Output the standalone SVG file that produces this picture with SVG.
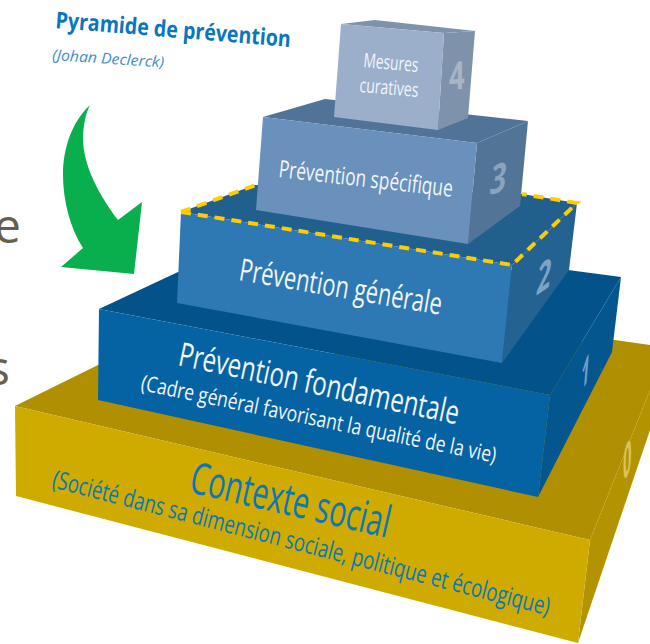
<svg xmlns="http://www.w3.org/2000/svg" width="650" height="644" viewBox="0 0 650 644">
<style>
text{font-family:"Open Sans","Noto Sans","Liberation Sans",sans-serif}
.w{fill:#f2f6fa}
.b{fill:#0a76bd}
.n{font-weight:700;font-style:italic}
.dash{fill:none;stroke:#ffcc00;stroke-width:4;stroke-dasharray:10 7}
</style>
<rect width="650" height="644" fill="#fff"/>
<g id="cropped-letters" fill="#665f4d" font-size="48">
<text x="-6" y="243">e</text>
<text x="-13" y="385">s</text>
</g>
<g id="title">
<text x="55" y="28" transform="rotate(4.6 55 28)" font-size="23" font-weight="700" fill="#0a76bd" textLength="236" lengthAdjust="spacingAndGlyphs">Pyramide de prévention</text>
<text x="52" y="60" transform="rotate(3.8 52 60)" font-size="15" font-style="italic" fill="#3b8dcc" textLength="112" lengthAdjust="spacingAndGlyphs">(Johan Declerck)</text>
</g>
<path id="arrow" fill="#08af4c" d="M90 105C72 122 63 148 63 175C63 200 70 228 83 248L61 267L134 274L142 202L118 220C100 196 82 165 83 135C84 122 86 113 90 105Z"/>
<g id="level-0">
<polygon fill="#b09000" points="15,406 98,365 615,340 650,345 650,390 590,540"/>
<polygon fill="#b39400" points="590,540 578,643 650,430 650,390"/>
<polygon fill="#cfab00" points="15,406 16,496 578,643 590,540"/>
<text class="b" x="188" y="492" transform="rotate(13 188 492)" font-size="44" textLength="204" lengthAdjust="spacingAndGlyphs">Contexte social</text>
<text class="b" x="51" y="487" transform="rotate(14.5 51 487)" font-size="25" textLength="513" lengthAdjust="spacingAndGlyphs">(Société dans sa dimension sociale, politique et écologique)</text>
<text x="0" y="0" transform="matrix(.5 -1 0 1.5 623 484)" font-size="30" font-weight="700" fill="#d8c25a">0</text>
</g>
<g id="level-1">
<polygon fill="#03538a" points="99,309 178,272 568,270 621,277 550,395"/>
<polygon fill="#04568f" points="550,395 538,497 612,352 621,277"/>
<polygon fill="#0563a3" points="99,309 98,400 538,497 550,395"/>
<text class="w" x="177" y="365" transform="rotate(12 177 365)" font-size="33" textLength="286" lengthAdjust="spacingAndGlyphs">Prévention fondamentale</text>
<text class="w" x="140" y="390" transform="rotate(11.6 140 390)" font-size="22" textLength="362" lengthAdjust="spacingAndGlyphs">(Cadre général favorisant la qualité de la vie)</text>
<text x="0" y="0" class="n" transform="matrix(.5 -.85 0 1.1 581 392)" font-size="32" fill="#6f9fc8">1</text>
</g>
<g id="level-2">
<polygon fill="#21608d" points="181,212 255,185 522,194 577,203 512,265"/>
<polygon fill="#246391" points="512,265 502,363 569,270 577,203"/>
<polygon fill="#2e79b3" points="181,212 177,303 502,363 512,265"/>
<text class="w" x="238" y="280" transform="rotate(9.8 238 280)" font-size="31" textLength="205" lengthAdjust="spacingAndGlyphs">Prévention générale</text>
<text x="0" y="0" class="n" transform="matrix(.72 -.5 0 1.1 537 295)" font-size="36" fill="#7fa3c6">2</text>
</g>
<g id="level-3">
<polygon fill="#517397" points="263,117 325,99 528,121 477,143"/>
<polygon fill="#527597" points="477,143 468,244 520,206 528,121"/>
<polygon fill="#6a90bc" points="263,117 256,210 468,244 477,143"/>
<text class="w" x="278" y="177" transform="rotate(6.5 278 177)" font-size="24" textLength="175" lengthAdjust="spacingAndGlyphs">Prévention spécifique</text>
<text x="0" y="0" class="n" transform="matrix(.78 -.25 0 1.05 490 195)" font-size="38" fill="#8ca3bd">3</text>
</g>
<g id="level-4">
<polygon fill="#7e92ab" points="341,24 375,20 475,31 444,33"/>
<polygon fill="#7e92ab" points="444,33 438,130 468,118 475,31"/>
<polygon fill="#9bafcb" points="341,24 334,117 438,130 444,33"/>
<text class="w" x="363" y="67" transform="rotate(5.3 363 67)" font-size="20" textLength="55" lengthAdjust="spacingAndGlyphs">Mesures</text>
<text class="w" x="359" y="92" transform="rotate(4.8 359 92)" font-size="20" textLength="59" lengthAdjust="spacingAndGlyphs">curatives</text>
<text x="0" y="0" transform="matrix(.72 -.06 0 1.02 449 90)" font-size="38" font-weight="700" fill="#a9b5c5">4</text>
</g>
<g id="connectors">
<path class="dash" d="M181 212L256 185"/>
<path class="dash" d="M181 212L512 265L577 203L522 194"/>
</g>
</svg>
